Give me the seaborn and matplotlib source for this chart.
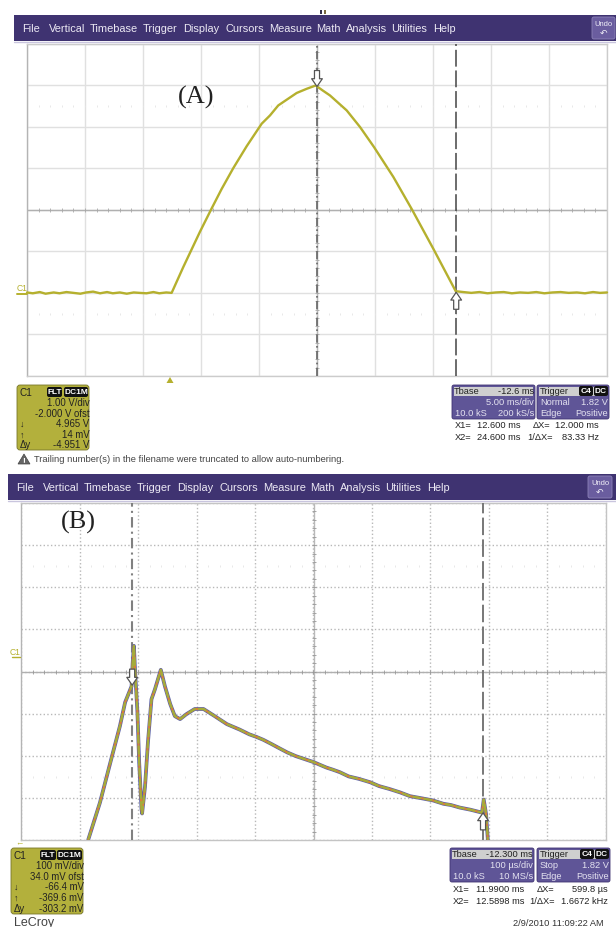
import numpy as np
import pandas as pd
import seaborn as sns
import matplotlib.pyplot as plt
from matplotlib.patches import FancyBboxPatch, Polygon, Rectangle

# trace A, time in ms / volts
t_a = [-12.4, -11.9, -11.3, -10.8, -10.1, -9.6, -9.0, -8.4, -7.8, -7.3, -6.7, -6.1,
       -5.5, -5.0, -4.4, -3.8, -3.2, -2.7, -2.1, -1.5, -1.0, -0.4, 0.07,
       1.07, 2.51, 3.46, 4.38, 5.38, 6.54, 7.83, 8.55, 9.26, 10.0, 10.85, 11.71, 12.49,
       13.09, 13.72, 15.16, 16.31, 17.51, 19.18, 20.76, 22.63, 24.56,
       25.2, 25.9, 26.6, 27.3, 28.0, 28.7, 29.4, 30.1, 30.8, 31.5, 32.2, 32.9,
       33.6, 34.3, 35.0, 35.7, 36.4, 37.0, 37.6]
v_a = [0.01, -0.01, 0.02, -0.02, 0.01, -0.01, 0.02, 0.0, -0.02, 0.01, 0.03, -0.01,
       0.02, -0.01, 0.01, -0.02, 0.01, 0.0, -0.01, 0.02, -0.01, 0.01, 0.0,
       0.62, 1.47, 2.00, 2.50, 3.00, 3.53, 4.07, 4.27, 4.51, 4.65, 4.81, 4.91, 4.99,
       4.87, 4.75, 4.39, 3.99, 3.51, 2.79, 2.02, 1.06, 0.04,
       0.02, 0.0, 0.02, -0.01, 0.01, 0.02, -0.01, 0.01, 0.0, 0.02, -0.01, 0.01,
       0.02, 0.0, 0.01, -0.01, 0.02, 0.0, 0.01]

# trace B, time in ms / millivolts
t_b = [11.915, 11.935, 11.955, 11.969, 11.978, 11.989, 11.991, 11.993, 11.995, 11.999,
       12.002, 12.006, 12.007, 12.012, 12.017, 12.023, 12.029, 12.039, 12.046, 12.055,
       12.063, 12.072, 12.083, 12.097, 12.112, 12.129, 12.152, 12.174, 12.190, 12.202,
       12.214, 12.228, 12.240, 12.255, 12.270, 12.285, 12.300, 12.322, 12.333, 12.345,
       12.360, 12.378, 12.397, 12.412, 12.430, 12.448, 12.465, 12.485, 12.504, 12.522,
       12.535, 12.550, 12.568, 12.588, 12.591, 12.595, 12.598]
v_b = [-433, -345, -238, -164, -107, -69, -11, 27, -33, -130,
       -250, -361, -371, -307, -202, -100, -76, -30, -69, -111,
       -140, -147, -135, -123, -123, -138, -159, -172, -183, -189,
       -196, -206, -215, -226, -235, -242, -249, -262, -267, -273,
       -283, -289, -297, -306, -313, -321, -330, -335, -340, -348,
       -351, -357, -362, -369, -338, -373, -433]

menu_items = ["File", "Vertical", "Timebase", "Trigger", "Display", "Cursors",
              "Measure", "Math", "Analysis", "Utilities", "Help"]
menu_x = [22, 49, 90, 143, 183, 225, 269, 316, 346, 391, 433]

c1_a = ["1.00 V/div", "-2.000 V ofst", "4.965 V", "14 mV", "-4.951 V"]
c1_b = ["100 mV/div", "34.0 mV ofst", "-66.4 mV", "-369.6 mV", "-303.2 mV"]
tbase_a = ["-12.6 ms", "5.00 ms/div", "10.0 kS", "200 kS/s"]
tbase_b = ["-12.300 ms", "100 µs/div", "10.0 kS", "10 MS/s"]
trig_a = ["Normal", "1.82 V", "Edge", "Positive"]
trig_b = ["Stop", "1.82 V", "Edge", "Positive"]
cursors_a = ["12.600 ms", "12.000 ms", "24.600 ms", "83.33 Hz"]
cursors_b = ["11.9900 ms", "599.8 µs", "12.5898 ms", "1.6672 kHz"]

W, H = 616, 928
PURPLE = "#3f3371"
BOX = "#b3b03c"
PANEL = "#5f5597"
READ = 6.7

sns.set_style("white")
plt.rcParams["font.family"] = ["Liberation Sans", "DejaVu Sans"]

fig = plt.figure(figsize=(W / 100, H / 100), dpi=100)


def px_axes(left, top, right, bottom):
    return fig.add_axes([left / W, 1 - bottom / H, (right - left) / W, (bottom - top) / H])


def scope_axes(box, xlim, ylim, dx, dy, grid_style, grid_color, edge, tick_color):
    ax = px_axes(*box)
    ax.set_xlim(*xlim)
    ax.set_ylim(*ylim)
    xc, yc = sum(xlim) / 2, sum(ylim) / 2
    ax.set_xticks(np.arange(xlim[0], xlim[1] + dx / 2, dx))
    ax.set_yticks(np.arange(ylim[0], ylim[1] + dy / 2, dy))
    ax.grid(True, color=grid_color, lw=1, ls=grid_style)
    ax.tick_params(length=0, labelbottom=False, labelleft=False)
    for s in ax.spines.values():
        s.set_color(edge)
        s.set_linewidth(1)
    ax.spines["left"].set_color("#b4b4b4")
    # centre lines with the small sub division ticks
    ax.axhline(yc, color="#b0b0b0", lw=1, zorder=1)
    ax.axvline(xc, color="#b8b8b8", lw=1, zorder=1)
    sub_x = np.arange(xlim[0], xlim[1] + dx / 10, dx / 5)
    sub_y = np.arange(ylim[0], ylim[1] + dy / 10, dy / 5)
    ax.plot(sub_x, [yc] * len(sub_x), ls="", marker="|", ms=3, mew=0.6, color=tick_color, zorder=1)
    ax.plot([xc] * len(sub_y), sub_y, ls="", marker="_", ms=3, mew=0.6, color=tick_color, zorder=1)
    # the faint rows at 2.5 div from centre
    for row in (yc - 2.5 * dy, yc + 2.5 * dy):
        ax.plot(sub_x, [row] * len(sub_x), ls="", marker="|", ms=2, mew=0.6, color="#e4e4e4", zorder=1)
    return ax


def cursor_arrow(ax, x, y, going_down):
    off = 16 if going_down else -17
    ax.annotate("", xy=(x, y), xytext=(0, off * 0.72), textcoords="offset points",
                arrowprops=dict(arrowstyle="simple,head_width=0.55,head_length=0.4,tail_width=0.26",
                                mutation_scale=14, fc="white", ec="#555555", lw=0.9,
                                shrinkA=0, shrinkB=0),
                zorder=6)


# panel A
ax_a = scope_axes((27, 44.5, 607, 377), (-12.4, 37.6), (-2, 6), 5, 1, "-", "#e0e0e0", "#cccccc", "#a8a8a8")
df_a = pd.DataFrame({"t": t_a, "v": v_a})
sns.lineplot(data=df_a, x="t", y="v", ax=ax_a, color="#b5b02e", lw=1.7, sort=False,
             estimator=None, zorder=4, clip_on=False)
ax_a.axvline(12.6, color="#666666", lw=1.2, ls=(0, (5, 2, 1, 2)), zorder=3)
ax_a.axvline(24.6, color="#444444", lw=1.1, ls=(0, (11, 2.5)), zorder=3)
cursor_arrow(ax_a, 12.6, 4.965, True)
cursor_arrow(ax_a, 24.6, 0.014, False)
ax_a.set_xlabel("")
ax_a.set_ylabel("")

# panel B
ax_b = scope_axes((21, 504, 606, 841), (11.8, 12.8), (-434, 366), 0.1, 100, ":", "#b8b8b8", "#c4c4c4", "#999999")
df_b = pd.DataFrame({"t": t_b, "v": v_b})
ax_b.axvline(11.99, color="#808080", lw=1.5, ls=(0, (5, 2, 1, 2)), zorder=3)
ax_b.axvline(12.5898, color="#777777", lw=1.4, ls=(0, (9, 2.2)), zorder=3)
sns.lineplot(data=df_b, x="t", y="v", ax=ax_b, color="#5c64a8", lw=2.7, sort=False, estimator=None, zorder=4)
sns.lineplot(data=df_b, x="t", y="v", ax=ax_b, color="#d9803a", lw=1.6, sort=False, estimator=None, zorder=4)
sns.lineplot(data=df_b, x="t", y="v", ax=ax_b, color="#a3ad3a", lw=1.6, ls=(0, (4, 1)), sort=False,
             estimator=None, zorder=5)
cursor_arrow(ax_b, 11.99, -66.4, True)
cursor_arrow(ax_b, 12.5898, -369.6, False)
ax_b.set_xlabel("")
ax_b.set_ylabel("")

# everything around the graticules, drawn in pixel coordinates
ui = fig.add_axes([0, 0, 1, 1], zorder=10)
ui.set_xlim(0, W)
ui.set_ylim(H, 0)
ui.axis("off")
ui.patch.set_alpha(0)


def label(x, y, s, size=READ, color="#222222", ha="left", **kw):
    ui.text(x, y, s, fontsize=size, color=color, ha=ha, va="center", **kw)


def rbox(x0, y0, x1, y1, color, ec="none", r=2):
    ui.add_patch(FancyBboxPatch((x0 + r, y0 + r), x1 - x0 - 2 * r, y1 - y0 - 2 * r,
                                boxstyle=f"round,pad={r},rounding_size={r}", fc=color, ec=ec, lw=0.6))


def badge(x0, x1, y, s):
    rbox(x0, y - 5, x1, y + 5, "#111111")
    label((x0 + x1) / 2, y, s, size=6, color="white", ha="center", fontweight="bold")


def menu(x0, y0, y1, shift, undo):
    ui.add_patch(Rectangle((x0, y0), W - x0, y1 - y0, fc=PURPLE, ec="none"))
    ui.plot([x0, W], [y1 + 0.5, y1 + 0.5], color="#c9c5de", lw=1)
    for name, x in zip(menu_items, menu_x):
        label(x + shift, (y0 + y1) / 2, name, size=7.9, color="#ece9f4")
    rbox(undo[0], undo[1], undo[2], undo[3], "#6a5d9f", ec="#8d83b8")
    xm = (undo[0] + undo[2]) / 2
    label(xm, undo[1] + 7, "Undo", size=5.4, color="#f0eef8", ha="center")
    label(xm, undo[1] + 15, "↶", size=6.5, color="#f0eef8", ha="center")


def channel_box(x0, y0, x1, y1, rows, ys, flt, dc):
    rbox(x0, y0, x1, y1, BOX, ec="#77752a", r=3)
    label(x0 + 3, ys[0], "C1", size=7.2)
    badge(flt[0], flt[1], ys[0], "FLT")
    badge(dc[0], dc[1], ys[0], "DC1M")
    for s, y in zip(rows, ys[1:]):
        label(x1 + 0.5, y, s, size=6.9, ha="right")
    label(x0 + 3, ys[3], "↓", size=6.5)
    label(x0 + 3, ys[4], "↑", size=6.5)
    label(x0 + 3, ys[5], "Δy", size=6.9)


def time_boxes(tb, tg, y0, y1, vals, trig, rows_y):
    white = "#e4e2f0"
    rbox(tb[0], y0, tb[1], y1, PANEL, ec="#3f3371")
    rbox(tg[0], y0, tg[1], y1, PANEL, ec="#3f3371")
    ui.add_patch(Rectangle((tb[0] + 2, y0 + 2), tb[1] - tb[0] - 4, 9, fc="#cfcfcf", ec="none"))
    ui.add_patch(Rectangle((tg[0] + 2, y0 + 2), tg[1] - tg[0] - 4, 9, fc="#cfcfcf", ec="none"))
    label(tb[0] + 2, rows_y[0], "Tbase")
    label(tb[1] - 1, rows_y[0], vals[0], ha="right")
    label(tb[1] - 1, rows_y[1], vals[1], color=white, ha="right")
    label(tb[0] + 3, rows_y[2], vals[2], color=white)
    label(tb[1] - 1, rows_y[2], vals[3], color=white, ha="right")
    label(tg[0] + 3, rows_y[0], "Trigger")
    badge(tg[1] - 30, tg[1] - 16, rows_y[0], "C4")
    badge(tg[1] - 15, tg[1] - 1, rows_y[0], "DC")
    label(tg[0] + 3, rows_y[1], trig[0], color=white)
    label(tg[1] - 1, rows_y[1], trig[1], color=white, ha="right")
    label(tg[0] + 3, rows_y[2], trig[2], color=white)
    label(tg[1] - 1, rows_y[2], trig[3], color=white, ha="right")


def cursor_rows(xs, ys, vals):
    label(xs[0], ys[0], "X1=")
    label(xs[1], ys[0], vals[0])
    label(xs[2], ys[0], "ΔX=")
    label(xs[4], ys[0], vals[1], ha="right")
    label(xs[0], ys[1], "X2=")
    label(xs[1], ys[1], vals[2])
    label(xs[3], ys[1], "1/ΔX=")
    label(xs[4], ys[1], vals[3], ha="right")


menu(14, 16, 42, 0, (592, 18, 615, 40))
menu(8, 475, 501, -6, (588, 477, 612, 499))

# the two stray marks above the first menu bar
ui.add_patch(Rectangle((320, 11), 2, 4, fc="#33304a", ec="none"))
ui.add_patch(Rectangle((324, 11), 2, 4, fc="#7a6a40", ec="none"))

label(178, 97, "(A)", size=19, color="#222222", family="Liberation Serif")
label(61, 522, "(B)", size=19, color="#222222", family="Liberation Serif")

label(17, 289, "C1", size=6.2, color="#b5b02e")
ui.plot([17, 27], [295, 295], color="#b5b02e", lw=1.4)
label(10, 653, "C1", size=6.2, color="#b5b02e")
ui.plot([12, 20], [658, 658], color="#b5b02e", lw=1)

ui.add_patch(Polygon([(166.5, 384), (170, 378), (173.5, 384)], fc="#b5b02e", ec="none"))
label(15, 844, "←", size=6, color="#b5b02e")

channel_box(17, 386, 89, 451, c1_a, [393, 403.5, 414, 424.5, 435, 445.5], (47, 62), (64, 88))
channel_box(11, 849, 83, 915, c1_b, [856, 866.5, 877, 887.5, 898.5, 909], (40, 56), (57, 82))

ui.add_patch(Polygon([(18, 465), (24, 455), (30, 465)], fc="#666666", ec="#444444", lw=0.5))
label(24, 461.5, "!", size=6, color="white", ha="center", fontweight="bold")
label(34, 460, "Trailing number(s) in the filename were truncated to allow auto-numbering.",
      size=6.75, color="#444444")

time_boxes((452, 535), (537, 609), 386, 420, tbase_a, trig_a, [392, 403, 414])
time_boxes((450, 534), (537, 610), 849, 883, tbase_b, trig_b, [855, 866, 877])
cursor_rows((455, 477, 533, 527, 599), (426, 438), cursors_a)
cursor_rows((453, 476, 537, 529, 608), (890, 902), cursors_b)

label(14, 923, "LeCroy", size=9, color="#444444")
label(513, 924, "2/9/2010 11:09:22 AM", size=6.7, color="#333333")

fig.savefig("out.png", dpi=100)
